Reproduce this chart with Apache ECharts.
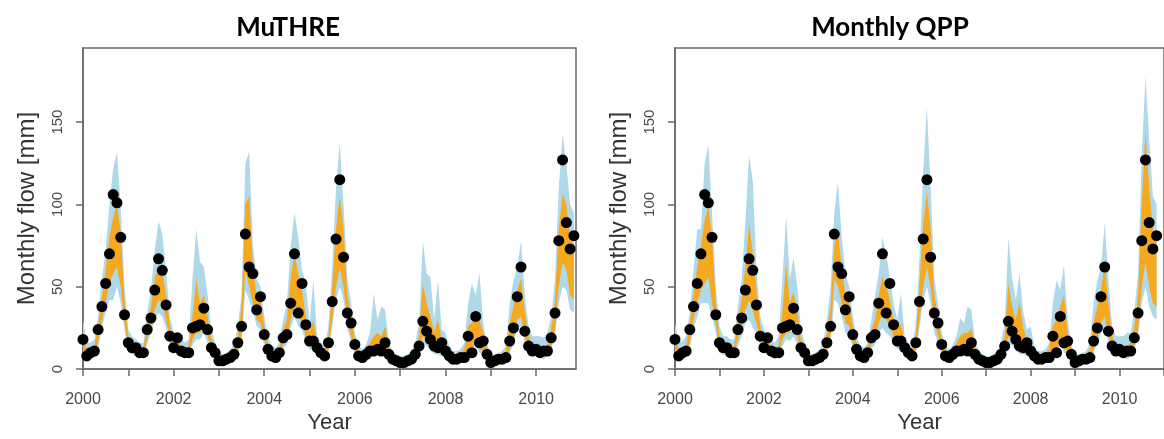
<!DOCTYPE html>
<html>
<head>
<meta charset="utf-8">
<script src="https://cdn.jsdelivr.net/npm/echarts@6/dist/echarts.min.js"></script>
<style>
html,body{margin:0;padding:0;background:#fff;}
#chart{width:1164px;height:439px;}
</style>
</head>
<body>
<div id="chart"></div>
<script>
// ---- data (monthly, Jan 2000 .. Nov 2010) ----
const startYear = 2000;
const panelTitles = ['MuTHRE', 'Monthly QPP'];
const xTickYears = [2000, 2001, 2002, 2003, 2004, 2005, 2006, 2007, 2008, 2009, 2010, 2011];
const xLabelYears = [2000, 2002, 2004, 2006, 2008, 2010];
const yTicks = [0, 50, 100, 150];

const observed = [
  18, 8, 10, 11, 24, 38, 52, 70, 106, 101, 80, 33,
  16, 13, 13, 10, 10, 24, 31, 48, 67, 60, 39, 20,
  13, 19, 11, 10, 10, 25, 26, 27, 37, 24, 13, 10,
  5, 5, 6, 7, 9, 16, 26, 82, 62, 58, 36, 44,
  21, 12, 8, 7, 10, 19, 21, 40, 70, 34, 52, 27,
  17, 17, 13, 10, 8, 16, 41, 79, 115, 68, 34, 28,
  15, 8, 7, 9, 11, 11, 12, 11, 16, 9, 6, 5,
  4, 4, 5, 6, 9, 14, 29, 23, 18, 14, 13, 16,
  11, 8, 6, 6, 7, 7, 20, 10, 32, 16, 17, 9,
  4, 5, 6, 6, 7, 17, 25, 44, 62, 23, 14, 11,
  12, 10, 11, 11, 19, 34, 78, 127, 89, 73, 81
];

// MuTHRE bands
const muInnerLo = [
  12, 7, 8, 9, 16, 30, 40, 52, 58, 62, 50, 28,
  12, 11, 10, 9, 9, 18, 26, 36, 42, 40, 30, 18,
  12, 12, 9, 8, 9, 18, 22, 22, 28, 20, 11, 8,
  4, 4, 5, 6, 7, 12, 20, 60, 50, 40, 30, 28,
  17, 10, 7, 6, 8, 15, 18, 30, 40, 32, 28, 20,
  14, 14, 10, 8, 7, 12, 30, 50, 62, 50, 28, 20,
  11, 6, 6, 7, 8, 9, 10, 10, 12, 7, 5, 4,
  3, 3, 4, 5, 7, 11, 20, 17, 14, 11, 11, 10,
  8, 6, 5, 5, 6, 6, 12, 10, 20, 12, 11, 7,
  3, 4, 5, 5, 6, 12, 18, 30, 32, 20, 12, 9,
  9, 8, 8, 9, 14, 24, 50, 65, 60, 45, 42
];
const muInnerHi = [
  20, 12, 13, 14, 26, 44, 60, 80, 92, 100, 82, 42,
  20, 16, 15, 13, 13, 28, 38, 55, 62, 58, 45, 26,
  18, 18, 14, 13, 14, 32, 55, 40, 45, 32, 18, 13,
  8, 7, 8, 10, 12, 20, 38, 100, 105, 62, 44, 42,
  26, 16, 11, 10, 13, 24, 30, 55, 70, 58, 48, 32,
  22, 30, 16, 13, 11, 20, 50, 85, 105, 85, 45, 32,
  18, 11, 10, 12, 16, 20, 22, 20, 26, 13, 9, 7,
  6, 6, 7, 9, 13, 20, 52, 40, 32, 22, 30, 18,
  14, 11, 9, 9, 10, 12, 26, 28, 36, 30, 22, 12,
  6, 7, 8, 9, 11, 28, 38, 48, 55, 35, 20, 15,
  15, 14, 14, 15, 24, 42, 85, 106, 100, 80, 75
];
const muOuterLo = [
  8, 5, 6, 7, 13, 25, 34, 42, 42, 50, 40, 24,
  10, 9, 8, 7, 7, 15, 22, 30, 34, 32, 25, 15,
  10, 10, 8, 7, 8, 15, 18, 18, 22, 16, 9, 6,
  3, 3, 4, 5, 6, 10, 17, 48, 42, 35, 26, 24,
  14, 8, 6, 5, 7, 12, 15, 25, 32, 26, 24, 16,
  12, 12, 8, 7, 6, 10, 26, 42, 50, 42, 24, 17,
  9, 5, 5, 6, 7, 8, 9, 9, 10, 6, 4, 3,
  2, 2, 3, 4, 6, 9, 16, 14, 12, 9, 9, 8,
  7, 5, 4, 4, 5, 5, 10, 8, 16, 10, 9, 6,
  2, 3, 4, 4, 5, 10, 15, 25, 26, 16, 10, 8,
  8, 7, 6, 8, 12, 20, 40, 50, 48, 36, 34
];
const muOuterHi = [
  30, 16, 16, 18, 32, 55, 72, 100, 122, 132, 98, 50,
  24, 20, 18, 16, 16, 34, 48, 72, 90, 82, 60, 32,
  22, 22, 18, 16, 18, 55, 85, 65, 62, 45, 24, 16,
  10, 9, 10, 12, 15, 26, 45, 125, 132, 75, 55, 50,
  32, 20, 14, 13, 16, 30, 40, 75, 95, 80, 60, 52,
  28, 54, 20, 16, 13, 26, 62, 110, 137, 100, 55, 40,
  22, 14, 12, 15, 22, 46, 30, 38, 36, 16, 11, 9,
  8, 8, 9, 11, 16, 28, 78, 58, 56, 30, 54, 24,
  22, 14, 11, 11, 12, 16, 40, 52, 45, 58, 28, 15,
  8, 9, 10, 11, 14, 40, 54, 62, 78, 45, 26, 20,
  20, 20, 19, 22, 32, 55, 110, 142, 125, 100, 95
];

// Monthly QPP bands
const qppInnerLo = [
  12, 7, 8, 9, 16, 30, 40, 48, 52, 56, 40, 28,
  12, 11, 10, 9, 9, 18, 26, 36, 42, 35, 28, 18,
  12, 12, 9, 8, 9, 18, 22, 22, 26, 20, 11, 8,
  4, 4, 5, 6, 7, 12, 20, 55, 50, 40, 28, 26,
  16, 10, 7, 6, 8, 15, 18, 28, 34, 30, 26, 20,
  14, 14, 10, 8, 7, 12, 30, 50, 62, 50, 28, 20,
  11, 6, 6, 7, 8, 9, 10, 10, 12, 7, 5, 4,
  3, 3, 4, 5, 7, 11, 20, 17, 14, 11, 11, 10,
  8, 6, 5, 5, 6, 6, 12, 10, 20, 12, 11, 7,
  3, 4, 5, 5, 6, 12, 18, 28, 32, 20, 12, 9,
  9, 8, 8, 9, 14, 24, 50, 65, 50, 40, 38
];
const qppInnerHi = [
  20, 12, 13, 14, 28, 46, 62, 75, 90, 99, 80, 42,
  20, 16, 15, 13, 14, 30, 42, 62, 88, 70, 48, 26,
  18, 18, 14, 13, 14, 35, 64, 40, 47, 35, 18, 13,
  8, 7, 8, 10, 12, 22, 38, 75, 83, 62, 45, 40,
  26, 16, 11, 10, 13, 24, 30, 45, 56, 50, 42, 30,
  24, 28, 16, 13, 11, 20, 52, 88, 108, 85, 45, 32,
  18, 11, 10, 12, 16, 20, 22, 22, 25, 13, 9, 7,
  6, 6, 7, 9, 13, 20, 52, 38, 30, 41, 25, 18,
  14, 11, 9, 9, 10, 12, 26, 30, 38, 45, 22, 12,
  6, 7, 8, 9, 12, 28, 38, 48, 64, 40, 20, 15,
  15, 14, 14, 16, 26, 45, 100, 144, 110, 85, 80
];
const qppOuterLo = [
  8, 5, 6, 7, 13, 24, 32, 40, 40, 40, 32, 22,
  10, 9, 8, 7, 7, 14, 20, 28, 30, 25, 22, 14,
  10, 10, 7, 6, 7, 14, 18, 17, 20, 15, 9, 6,
  3, 3, 4, 5, 6, 10, 16, 42, 40, 32, 22, 20,
  13, 8, 6, 5, 7, 12, 15, 22, 25, 22, 20, 16,
  12, 12, 8, 7, 6, 10, 25, 42, 50, 40, 22, 16,
  9, 5, 5, 6, 7, 8, 8, 9, 10, 6, 4, 3,
  2, 2, 3, 4, 6, 9, 16, 14, 12, 9, 9, 8,
  7, 5, 4, 4, 5, 5, 10, 8, 16, 10, 9, 6,
  2, 3, 4, 4, 5, 10, 15, 22, 26, 16, 10, 8,
  8, 7, 6, 8, 12, 20, 40, 50, 38, 32, 30
];
const qppOuterHi = [
  28, 16, 17, 20, 35, 60, 85, 85, 125, 136, 95, 50,
  26, 20, 20, 18, 18, 38, 55, 90, 130, 114, 60, 32,
  24, 22, 18, 16, 20, 55, 93, 55, 68, 50, 24, 16,
  10, 9, 10, 12, 16, 30, 50, 95, 114, 80, 58, 50,
  32, 20, 14, 13, 16, 30, 45, 58, 80, 70, 55, 40,
  30, 46, 20, 16, 13, 28, 68, 120, 159, 110, 55, 40,
  22, 14, 12, 15, 20, 31, 28, 38, 36, 16, 11, 9,
  8, 8, 9, 11, 16, 28, 80, 55, 42, 58, 35, 24,
  26, 14, 11, 11, 12, 16, 40, 54, 48, 63, 30, 15,
  8, 9, 10, 11, 16, 40, 54, 62, 89, 55, 26, 20,
  20, 20, 22, 22, 36, 58, 130, 178, 140, 105, 100
];

// ---- chart ----
const BLUE = '#afd8e8';
const ORANGE = '#f6a81e';
const AXIS = '#6a6a6a';
const TXT = '#4a4a4a';

function xOf(i) { return startYear + i / 12; }

function band(idx, lo, hi, color, z) {
  return {
    type: 'custom', xAxisIndex: idx, yAxisIndex: idx, silent: true, z: z,
    data: lo.map((v, i) => [xOf(i), v, hi[i]]),
    encode: { x: 0, y: [1, 2] },
    renderItem: function (params, api) {
      if (params.dataIndex !== 0) return;
      const pts = [];
      for (let i = 0; i < hi.length; i++) pts.push(api.coord([xOf(i), hi[i]]));
      for (let i = lo.length - 1; i >= 0; i--) pts.push(api.coord([xOf(i), lo[i]]));
      return { type: 'polygon', shape: { points: pts }, style: { fill: color } };
    }
  };
}

function xAxisCfg(idx, max) {
  return {
    gridIndex: idx, type: 'value', min: 2000, max: max, interval: 1,
    name: 'Year', nameLocation: 'middle', nameGap: 33,
    nameTextStyle: { fontSize: 22, color: '#333', fontFamily: 'Liberation Sans' },
    axisLine: { show: true, lineStyle: { color: AXIS, width: 1.5 } },
    axisTick: { show: true, length: 7, lineStyle: { color: AXIS, width: 1.5 }, customValues: xTickYears },
    axisLabel: { customValues: xLabelYears, margin: 22, fontSize: 16, color: TXT, fontFamily: 'Liberation Sans',
                 formatter: v => String(v) },
    splitLine: { show: false }
  };
}
function yAxisCfg(idx) {
  return {
    gridIndex: idx, type: 'value', min: 0, max: 195, interval: 50,
    name: 'Monthly flow [mm]', nameLocation: 'middle', nameGap: 44, nameRotate: 90,
    nameTextStyle: { fontSize: 24, color: '#333', fontFamily: 'Liberation Sans' },
    axisLine: { show: true, lineStyle: { color: AXIS, width: 1.5 } },
    axisTick: { show: true, length: 7, lineStyle: { color: AXIS, width: 1.5 }, customValues: yTicks },
    axisLabel: { customValues: yTicks, rotate: 90, margin: 18, fontSize: 15, color: TXT, fontFamily: 'Liberation Sans',
                 formatter: v => String(v) },
    splitLine: { show: false }
  };
}

const series = [];
[[muOuterLo, muOuterHi, muInnerLo, muInnerHi], [qppOuterLo, qppOuterHi, qppInnerLo, qppInnerHi]].forEach((b, idx) => {
  series.push(band(idx, b[0], b[1], BLUE, 1));
  series.push(band(idx, b[2], b[3], ORANGE, 2));
  series.push({
    type: 'scatter', xAxisIndex: idx, yAxisIndex: idx, z: 3, silent: true,
    symbol: 'circle', symbolSize: 11, itemStyle: { color: '#000', opacity: 1 },
    data: observed.map((v, i) => [xOf(i), v])
  });
});

const chart = echarts.init(document.getElementById('chart'), null, { renderer: 'canvas' });
chart.setOption({
  animation: false,
  backgroundColor: '#fff',
  grid: [
    { left: 83, top: 48, width: 493, height: 335.5, show: true, borderColor: AXIS, borderWidth: 1.5, backgroundColor: 'transparent' },
    { left: 675, top: 48, right: -8, height: 335.5, show: true, borderColor: AXIS, borderWidth: 1.5, backgroundColor: 'transparent' }
  ],
  xAxis: [xAxisCfg(0, 2010.88), xAxisCfg(1, 2011)],
  yAxis: [yAxisCfg(0), yAxisCfg(1)],
  graphic: [
    { type: 'text', x: 288, y: 28, style: { text: panelTitles[0], font: 'bold 26px Lato', fill: '#000', textAlign: 'center', textVerticalAlign: 'middle' } },
    { type: 'text', x: 890, y: 28, style: { text: panelTitles[1], font: 'bold 26px Lato', fill: '#000', textAlign: 'center', textVerticalAlign: 'middle' } }
  ],
  series: series
});
</script>
</body>
</html>
